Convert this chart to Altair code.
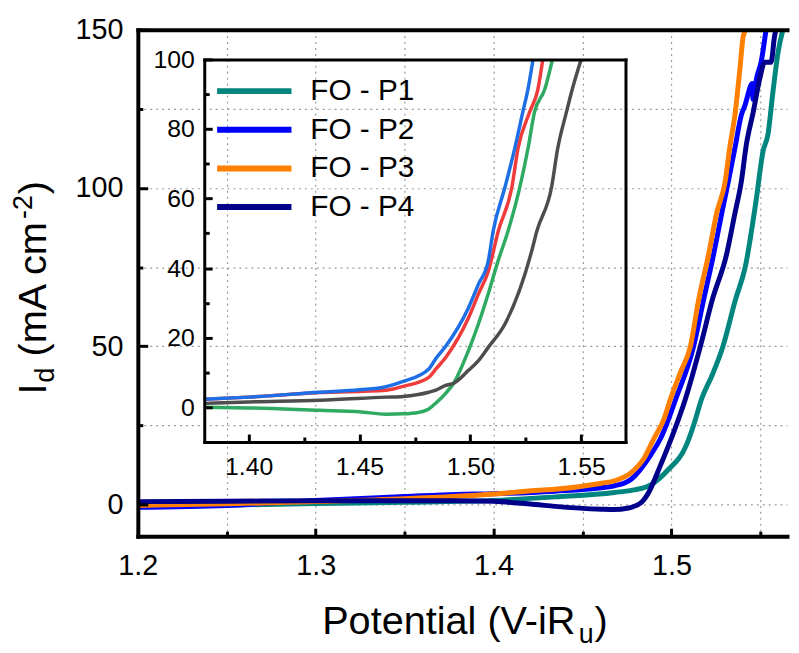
import altair as alt
import pandas as pd

FONT = "Liberation Sans, Arial, sans-serif"

# ---------------- data ----------------
series = ["FO - P1", "FO - P2", "FO - P3", "FO - P4"]
main_colors = ["#00857F", "#0000FF", "#FF7F00", "#00008B"]

p1_x = [1.20, 1.25, 1.30, 1.35, 1.40, 1.435, 1.468, 1.479, 1.4886, 1.4975, 1.5086, 1.513, 1.517,
        1.523, 1.529, 1.536, 1.5415, 1.5476, 1.5515, 1.5543, 1.557, 1.560, 1.5627]
p1_y = [-0.5, -0.2, 0.3, 0.7, 1.3, 2.4, 3.8, 4.6, 6.3, 10.6, 19.0, 26.0, 33.4,
        41.0, 50.0, 64.7, 75.0, 96.0, 111.6, 117.0, 130.0, 143.0, 150.0]

p2_x = [1.20, 1.25, 1.30, 1.35, 1.3788, 1.40, 1.4345, 1.4607, 1.468, 1.4772, 1.4884, 1.494, 1.5025,
        1.5125, 1.5181, 1.5237, 1.5283, 1.532, 1.5357, 1.5393, 1.5413, 1.5455, 1.5458, 1.548, 1.5504, 1.5532]
p2_y = [-0.9, -0.3, 1.3, 2.5, 3.2, 3.4, 4.2, 5.3, 5.9, 7.9, 15.7, 21.0, 33.4,
        50.0, 64.7, 79.0, 92.0, 102.0, 112.6, 123.0, 126.0, 133.0, 128.0, 135.0, 139.7, 150.0]

p3_x = [1.20, 1.25, 1.30, 1.35, 1.40, 1.4234, 1.4345, 1.4607, 1.468, 1.4772, 1.4847, 1.4903, 1.4958,
        1.4995, 1.5051, 1.5107, 1.5153, 1.5209, 1.5254, 1.5302, 1.533, 1.5357, 1.5385, 1.5404, 1.542]
p3_y = [-0.3, 0.2, 0.9, 1.8, 3.3, 4.4, 4.8, 6.7, 7.5, 10.0, 14.7, 21.0, 27.0,
        33.4, 41.8, 50.0, 64.7, 79.0, 92.0, 102.0, 113.6, 123.0, 137.6, 148.0, 150.0]

p4_x = [1.20, 1.25, 1.30, 1.35, 1.3788, 1.40, 1.4234, 1.4345, 1.4607, 1.468, 1.475, 1.4828, 1.4866,
        1.494, 1.5014, 1.5079, 1.5163, 1.523, 1.531, 1.5357, 1.5393, 1.5421, 1.546, 1.5497, 1.5524,
        1.556, 1.558, 1.5588]
p4_y = [0.9, 1.0, 1.2, 1.2, 1.2, 1.0, 0.0, -0.6, -1.5, -1.6, -1.2, 0.5, 3.2,
        12.6, 23.0, 33.4, 50.0, 64.7, 79.0, 92.0, 102.0, 113.6, 124.0, 134.6, 139.7,
        139.7, 148.0, 150.0]

inset_names = ["A", "B", "C", "D"]
inset_colors = ["#2EAA62", "#4D4D4D", "#F03B3B", "#1E6FE6"]

ia_x = [1.38, 1.40, 1.432, 1.45, 1.462, 1.4697, 1.4765, 1.4813, 1.4845, 1.4889, 1.4925, 1.4992, 1.5037,
        1.5081, 1.5125, 1.517, 1.5224, 1.526, 1.529, 1.5336, 1.5371]
ia_y = [0.0, -0.2, -0.9, -1.3, -2.0, -1.9, -1.5, -0.5, 1.2, 4.0, 6.9, 16.3, 24.0,
        32.6, 42.0, 50.6, 63.4, 74.3, 84.9, 91.4, 100.0]

ib_x = [1.38, 1.40, 1.432, 1.462, 1.4697, 1.4813, 1.4845, 1.4889, 1.4925, 1.4992, 1.5037, 1.5081,
        1.5157, 1.5277, 1.530, 1.5367, 1.5394, 1.5434, 1.546, 1.550]
ib_y = [1.1, 1.5, 2.0, 2.9, 3.1, 4.3, 4.9, 6.3, 6.9, 10.6, 13.4, 17.2,
        24.0, 44.9, 50.6, 63.4, 74.3, 84.9, 91.4, 100.0]

ic_x = [1.38, 1.40, 1.432, 1.462, 1.4697, 1.4813, 1.4845, 1.4889, 1.4992, 1.5037, 1.5081, 1.5126,
        1.5188, 1.5215, 1.5268, 1.5305, 1.5327]
ic_y = [2.3, 2.9, 4.2, 4.9, 6.0, 8.6, 11.0, 14.3, 25.7, 32.6, 39.0, 50.6,
        63.4, 74.3, 84.9, 91.4, 100.0]

id_x = [1.38, 1.40, 1.432, 1.45, 1.462, 1.4697, 1.4813, 1.4845, 1.4889, 1.4992, 1.5037, 1.5081,
        1.5103, 1.5157, 1.520, 1.5237, 1.526, 1.5283]
id_y = [2.3, 2.9, 4.3, 5.0, 5.9, 7.4, 11.0, 14.0, 17.5, 28.6, 35.4, 42.0,
        50.6, 63.4, 74.3, 84.9, 91.4, 100.0]


def frame(names, xs, ys):
    rows = []
    for n, xv, yv in zip(names, xs, ys):
        for i, (a, b) in enumerate(zip(xv, yv)):
            rows.append({"s": n, "x": a, "y": b, "i": i})
    return pd.DataFrame(rows)


df_main = frame(series, [p1_x, p2_x, p3_x, p4_x], [p1_y, p2_y, p3_y, p4_y])
df_inset = frame(inset_names, [ia_x, ib_x, ic_x, id_x], [ia_y, ib_y, ic_y, id_y])

# ---------------- layout ----------------
W, H = 655, 511            # main plot area
IL, IR, IT, IB = 67, 492, 30, 416   # inset box inside plot area (pixels)

XM = alt.Scale(domain=[1.2, 1.565], nice=False, zero=False)
YM = alt.Scale(domain=[-10, 150], nice=False, zero=False)
XI = alt.Scale(domain=[1.38, 1.57], range=[IL, IR], nice=False, zero=False)
YI = alt.Scale(domain=[-10, 100], range=[IB, IT], nice=False, zero=False)


def ax(**kw):
    base = dict(labels=False, ticks=False, domain=False, grid=False, title=None, zindex=1,
                labelFont=FONT, labelColor="black", labelFlush=False, labelOverlap=False,
                domainColor="black", tickColor="black", domainCap="square")
    base.update(kw)
    return alt.Axis(**base)


def ghost(data, xs, ys, xa, ya):
    return alt.Chart(data).mark_line(strokeOpacity=0).encode(
        x=alt.X("x:Q", scale=xs, axis=xa), y=alt.Y("y:Q", scale=ys, axis=ya),
        detail="s:N")


# main axes
ax_mx = ax(orient="bottom", domain=True, domainWidth=4, labels=True, values=[1.2, 1.3, 1.4, 1.5],
           format=".1f", labelFontSize=29, labelPadding=16)
ax_my = ax(orient="left", domain=True, domainWidth=4, labels=True, values=[0, 50, 100, 150],
           labelFontSize=29, labelPadding=15)
ax_mxgrid = ax(orient="bottom", grid=True, values=[1.25, 1.3, 1.35, 1.4, 1.45, 1.5, 1.55],
               gridDash=[2, 4], gridColor="#9a9a9a", gridWidth=1.2, zindex=0)
ax_mygrid = ax(orient="left", grid=True, values=[0, 25, 50, 75, 100, 125],
               gridDash=[2, 4], gridColor="#9a9a9a", gridWidth=1.2, zindex=0)
ax_mtop = ax(orient="top", domain=True, domainWidth=4)
ax_my_major = ax(orient="right", offset=-W, ticks=True, values=[0, 50, 100, 150], tickSize=10, tickWidth=3)
ax_mx_major = ax(orient="top", offset=-H, ticks=True, values=[1.2, 1.3, 1.4, 1.5], tickSize=8, tickWidth=3)
ax_my_minor = ax(orient="right", offset=-W, ticks=True, values=[25, 75, 125], tickSize=5, tickWidth=3)
ax_mx_minor = ax(orient="top", offset=-H, ticks=True, values=[1.25, 1.35, 1.45, 1.55], tickSize=5, tickWidth=3)

# inset axes
ax_ix = ax(orient="bottom", offset=IB - H, domain=True, domainWidth=3, labels=True,
           values=[1.40, 1.45, 1.50, 1.55], format=".2f", labelFontSize=25, labelPadding=13)
ax_iy = ax(orient="left", offset=-IL, domain=True, domainWidth=3, labels=True,
           values=[0, 20, 40, 60, 80, 100], labelFontSize=25, labelPadding=10)
ax_itop = ax(orient="top", offset=-IT, domain=True, domainWidth=3)
ax_iright = ax(orient="right", offset=-(W - IR), domain=True, domainWidth=3)
ax_ix_major = ax(orient="top", offset=-IB, ticks=True, values=[1.40, 1.45, 1.50, 1.55], tickSize=8, tickWidth=3)
ax_iy_major = ax(orient="right", offset=-(W - IL), ticks=True, values=[0, 20, 40, 60, 80, 100], tickSize=8, tickWidth=3)
ax_ix_minor = ax(orient="top", offset=-IB, ticks=True, values=[1.425, 1.475, 1.525], tickSize=5, tickWidth=3)
ax_iy_minor = ax(orient="right", offset=-(W - IL), ticks=True, values=[10, 30, 50, 70, 90], tickSize=5, tickWidth=3)

legend = alt.Legend(orient="none", legendX=130, legendY=47, title=None, labelFontSize=30,
                    labelFont=FONT, labelColor="black", symbolType="M-6.5,0L1,0", symbolSize=400,
                    symbolStrokeWidth=6, labelOffset=14, rowPadding=9, padding=0)

main_lines = alt.Chart(df_main).mark_line(strokeWidth=5, clip=True, strokeJoin="round",
                                          interpolate="monotone").encode(
    x=alt.X("x:Q", scale=XM, axis=ax_mx),
    y=alt.Y("y:Q", scale=YM, axis=ax_my),
    color=alt.Color("s:N", scale=alt.Scale(domain=series, range=main_colors), legend=legend),
    order="i:Q",
)

inset_lines = alt.Chart(df_inset).mark_line(strokeWidth=3.5, strokeJoin="round",
                                            interpolate="monotone").encode(
    x=alt.X("x:Q", scale=XI, axis=ax_ix),
    y=alt.Y("y:Q", scale=YI, axis=ax_iy),
    color=alt.Color("s:N", scale=alt.Scale(domain=inset_names, range=inset_colors), legend=None),
    order="i:Q",
)

layers = [
    ghost(df_main, XM, YM, ax_mxgrid, ax_mygrid),
    main_lines,
    ghost(df_main, XM, YM, ax_mtop, ax_my_major),
    ghost(df_main, XM, YM, ax_mx_major, ax_my_minor),
    ghost(df_main, XM, YM, ax_mx_minor, None),
    inset_lines,
    ghost(df_inset, XI, YI, ax_itop, ax_iright),
    ghost(df_inset, XI, YI, ax_ix_major, ax_iy_major),
    ghost(df_inset, XI, YI, ax_ix_minor, ax_iy_minor),
]

# ---------------- axis titles with sub/superscripts ----------------
AW = {"P": .667, "o": .556, "t": .278, "e": .556, "n": .556, "i": .222, "a": .556, "l": .222,
      " ": .278, "(": .333, ")": .333, "V": .667, "-": .333, "R": .722, "u": .556, "I": .278,
      "d": .556, "m": .833, "A": .667, "c": .5, "2": .556}


def tw(s, fs):
    return sum(AW[c] for c in s) * fs


BIG, SMALL = 40, 27
dummy = pd.DataFrame({"k": [0]})


def txt(s, fs, x, y, angle=0):
    props = dict(text=s, font=FONT, fontSize=fs, align="left", baseline="alphabetic", color="black")
    if angle:
        props["angle"] = angle
    return alt.Chart(dummy).mark_text(**props).encode(x=alt.value(x), y=alt.value(y))


# y title (reads bottom to top); (text, size, baseline shift, gap before)
yb, ys = -93, 368
pieces_y = [("I", BIG, 0, 0), ("d", SMALL, 8, 1), ("(mA cm", BIG, 0, tw(" ", BIG)),
            ("-2", SMALL, -14, 1), (")", BIG, 0, 1)]
for s, fs, dx, gap in pieces_y:
    ys -= gap
    layers.append(txt(s, fs, yb + dx, ys, 270))
    ys -= tw(s, fs)

# x title
xs0, xb = 186, 610
pieces_x = [("Potential (V-iR", BIG, 0, 0), ("u", SMALL, 9, 1), (")", BIG, 0, 1)]
for s, fs, dy, gap in pieces_x:
    xs0 += gap
    layers.append(txt(s, fs, xs0, xb + dy))
    xs0 += tw(s, fs)

chart = alt.layer(*layers).resolve_scale(
    x="independent", y="independent", color="independent"
).properties(
    width=W, height=H,
    autosize=alt.AutoSizeParams(type="none"),
    padding={"left": 131, "top": 19, "right": 4, "bottom": 112},
).configure_view(stroke=None)

chart.save("out.html", embed_options={"renderer": "svg", "actions": False})
